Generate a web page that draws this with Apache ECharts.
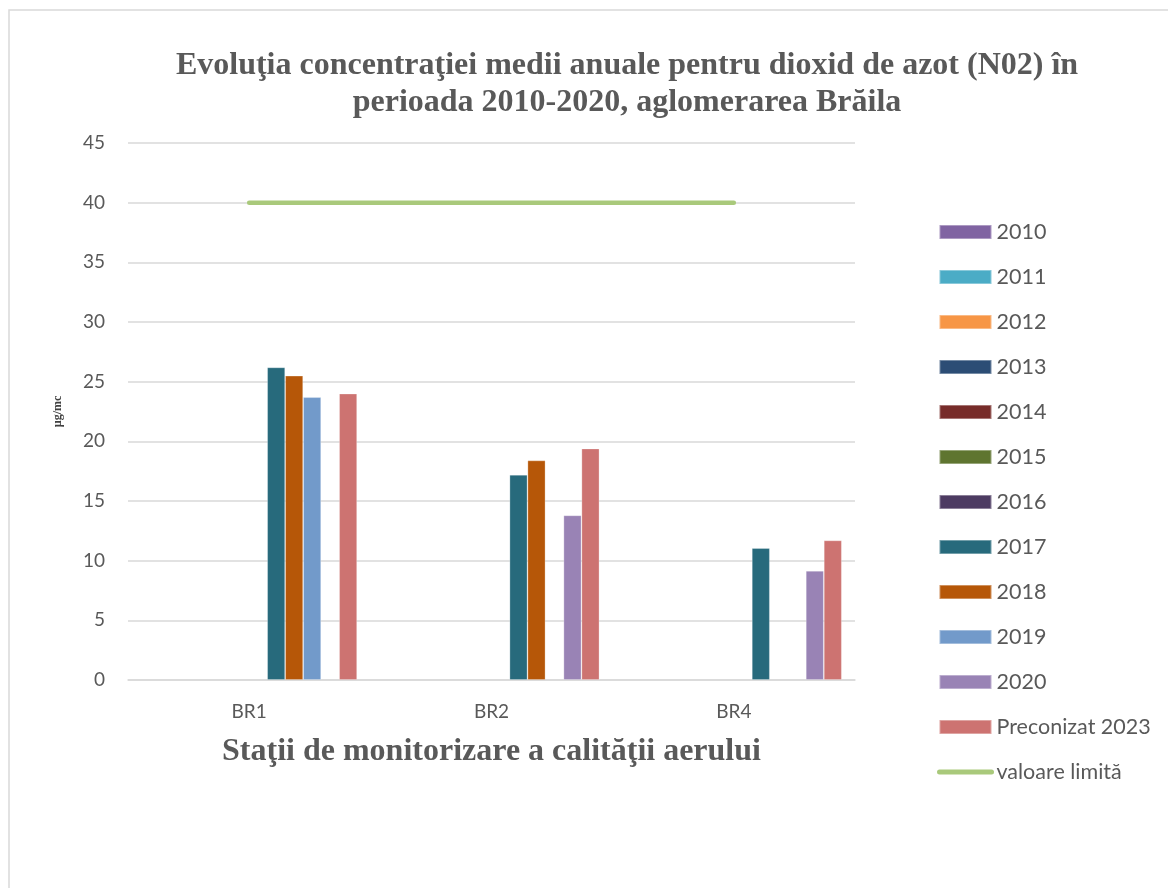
<!DOCTYPE html>
<html>
<head>
<meta charset="utf-8">
<title>Evoluţia concentraţiei medii anuale NO2 - Brăila</title>
<script src="https://cdn.jsdelivr.net/npm/echarts@6/dist/echarts.min.js"></script>
<style>
  html, body { margin: 0; padding: 0; background: #ffffff; }
  #chart { width: 1168px; height: 888px; }
</style>
</head>
<body>
<div id="chart"></div>
<script>
// Monitoring stations (x categories)
const stations = ['BR1', 'BR2', 'BR4'];

// Annual mean NO2 concentration (µg/mc) per station; null = no measurement
const v2010 = [null, null, null];
const v2011 = [null, null, null];
const v2012 = [null, null, null];
const v2013 = [null, null, null];
const v2014 = [null, null, null];
const v2015 = [null, null, null];
const v2016 = [null, null, null];
const v2017 = [26.2, 17.2, 11.05];
const v2018 = [25.5, 18.4, null];
const v2019 = [23.7, null, null];
const v2020 = [null, 13.8, 9.15];
const vForecast2023 = [24.0, 19.4, 11.7];

// Annual limit value
const limitValues = [40, 40, 40];

// Y axis ticks
const yMin = 0;
const yMax = 45;
const yStep = 5;

const barSeries = [
  { name: '2010', data: v2010, color: '#8064A2' },
  { name: '2011', data: v2011, color: '#4BACC6' },
  { name: '2012', data: v2012, color: '#F79646' },
  { name: '2013', data: v2013, color: '#2C4D75' },
  { name: '2014', data: v2014, color: '#772C2A' },
  { name: '2015', data: v2015, color: '#5F7530' },
  { name: '2016', data: v2016, color: '#4D3B62' },
  { name: '2017', data: v2017, color: '#276A7C' },
  { name: '2018', data: v2018, color: '#B65708' },
  { name: '2019', data: v2019, color: '#729ACA' },
  { name: '2020', data: v2020, color: '#9983B5' },
  { name: 'Preconizat 2023', data: vForecast2023, color: '#CD7371' }
];
const limitName = 'valoare limită';
const limitColor = '#A9C97B';

const textGrey = '#595959';
const gridGrey = '#d9d9d9';
const sansFont = 'Lato, "Noto Sans", sans-serif';
const serifFont = '"Liberation Serif", "DejaVu Serif", serif';

const chart = echarts.init(document.getElementById('chart'), null, { renderer: 'canvas' });

const series = barSeries.map(s => ({
  name: s.name,
  type: 'bar',
  data: s.data,
  barGap: '0%',
  barCategoryGap: '10.9%',
  itemStyle: { color: s.color, borderColor: 'rgba(255,255,255,0.35)', borderWidth: 0.8 },
  emphasis: { disabled: true }
}));

series.push({
  name: limitName,
  type: 'line',
  data: limitValues,
  symbol: 'none',
  lineStyle: { color: limitColor, width: 4.5, cap: 'round' },
  itemStyle: { color: limitColor },
  emphasis: { disabled: true },
  z: 5
});

chart.setOption({
  animation: false,
  backgroundColor: '#ffffff',
  graphic: [{
    type: 'rect',
    shape: { x: 9, y: 10, width: 1200, height: 900 },
    style: { fill: 'none', stroke: gridGrey, lineWidth: 1.5 },
    silent: true
  }],
  title: {
    text: 'Evoluţia concentraţiei medii anuale pentru dioxid de azot (N02) în\nperioada 2010-2020, aglomerarea Brăila',
    left: 622,
    textAlign: 'center',
    top: 42,
    textStyle: {
      fontFamily: serifFont,
      fontWeight: 'bold',
      fontSize: 32,
      lineHeight: 37,
      color: textGrey
    }
  },
  legend: {
    orient: 'vertical',
    left: 932,
    top: 216,
    itemWidth: 52,
    itemHeight: 14,
    itemGap: 23,
    data: barSeries.map(s => ({ name: s.name, icon: 'rect' }))
      .concat([{ name: limitName, itemStyle: { opacity: 0 } }]),
    lineStyle: { width: 5, cap: 'round' },
    textStyle: {
      fontFamily: sansFont,
      fontSize: 21.5,
      lineHeight: 21,
      color: textGrey
    },
    selectedMode: false
  },
  grid: {
    left: 128,
    right: 313,
    top: 143,
    bottom: 208,
    containLabel: false
  },
  xAxis: {
    type: 'category',
    data: stations,
    name: 'Staţii de monitorizare a calităţii aerului',
    nameLocation: 'middle',
    nameGap: 56,
    nameTextStyle: {
      fontFamily: serifFont,
      fontWeight: 'bold',
      fontSize: 32,
      color: textGrey
    },
    axisLine: { show: true, lineStyle: { color: gridGrey, width: 1.5 } },
    axisTick: { show: false },
    axisLabel: {
      fontFamily: sansFont,
      fontSize: 19,
      color: textGrey,
      margin: 22
    }
  },
  yAxis: {
    type: 'value',
    min: yMin,
    max: yMax,
    interval: yStep,
    name: 'µg/mc',
    nameLocation: 'middle',
    nameGap: 64,
    nameRotate: 90,
    nameTextStyle: {
      fontFamily: serifFont,
      fontWeight: 'bold',
      fontSize: 12,
      color: '#404040'
    },
    axisLine: { show: false },
    axisTick: { show: false },
    splitLine: { lineStyle: { color: gridGrey, width: 1.5 } },
    axisLabel: {
      fontFamily: sansFont,
      fontSize: 19,
      color: textGrey,
      margin: 23
    }
  },
  series: series
});
</script>
</body>
</html>
